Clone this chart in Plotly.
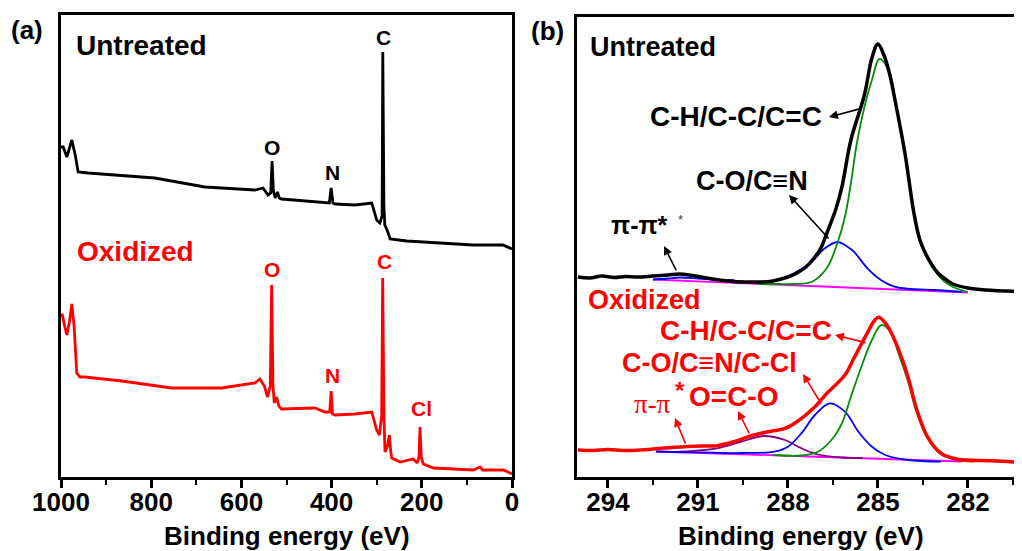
import plotly.graph_objects as go

# ---------------- Panel (a): XPS survey spectra ----------------
survey_untreated_E = [1000, 995, 987, 976, 968, 962, 940, 880, 792, 681, 600, 570, 552, 541, 535, 532, 529,
                      525, 520, 516, 511, 422, 405, 401, 397, 392, 348, 311, 300, 293, 288, 286.5, 284,
                      282, 277, 270, 233, 160, 86, 20, 4, 0]
survey_untreated_I = [329, 329, 319, 336, 320, 304, 303, 301, 298, 289, 287, 286, 288, 281, 283, 315, 285,
                      278, 284, 278, 277, 274, 273, 288, 273, 272, 271, 273, 256, 253, 260, 424, 270,
                      251, 246, 237, 235, 233, 231, 231, 228, 227]

survey_oxidized_E = [1000, 997, 992, 987, 981, 976, 971, 965, 958, 947, 865, 800, 755, 644, 570, 559, 549,
                     542, 536, 533, 530, 527, 522, 517, 511, 437, 415, 404, 401, 398, 392, 348, 311, 300,
                     294, 289, 286.7, 284, 281.6, 276, 272, 269, 266.7, 248, 219, 210, 206, 204, 201,
                     196.6, 174, 86, 71, 65, 19, 4, 0]
survey_oxidized_I = [161, 161, 150, 141, 155, 172, 150, 103, 99, 99, 95, 91, 88, 88, 93, 97, 90,
                     79, 90, 191, 90, 73, 79, 70, 67, 68, 64, 64, 85, 62, 61, 62, 64, 46,
                     41, 60, 198, 60, 24, 30, 41, 25, 18, 14, 17, 13, 20, 49, 18,
                     12, 8, 6, 9, 6, 6, 3, 2]

survey_ticks = [1000, 800, 600, 400, 200, 0]

# ---------------- Panel (b): C 1s high-resolution ----------------
# Untreated
u_env_E = [295.0, 294.6, 294.2, 293.8, 293.4, 293.0, 292.5, 292.0, 291.6, 291.2, 290.8, 290.4, 290.0, 289.5,
           289.0, 288.6, 288.3, 288.0, 287.7, 287.4, 287.1, 286.9, 286.7, 286.4, 286.2, 285.9, 285.45,
           285.2, 285.0, 284.8, 284.6, 284.45, 284.1, 283.8, 283.6, 283.35, 283.0, 282.8, 282.5, 282.0,
           281.4, 280.2]
u_env_I = [200, 199, 201, 199.5, 200.5, 200, 201, 202, 203, 201.5, 199.5, 197.5, 196, 195,
           195, 195.5, 197.5, 200, 204, 210, 220, 229, 244, 268, 290, 337, 382,
           419, 433, 422, 402, 380, 324, 264, 237, 220, 204, 199, 193, 189,
           187, 185.5]

u_cc_E = [289.0, 288.3, 287.8, 287.2, 286.7, 286.35, 286.1, 285.9, 285.7, 285.45, 285.2, 284.95, 284.7,
          284.45, 284.1, 283.8, 283.6, 283.35, 283.0, 282.8, 282.5, 282.0]
u_cc_I = [193, 193, 193, 195.3, 209, 234, 260, 294, 334, 370, 397, 418, 410,
          380, 324, 263, 236, 218, 202, 196, 190, 185]

u_co_E = [290.0, 289.0, 288.3, 287.8, 287.2, 286.8, 286.35, 286.0, 285.8, 285.35, 284.9, 284.45, 283.9,
          283.1, 282.2]
u_co_I = [197, 194.5, 197, 203.7, 215.3, 228, 235, 230, 225.3, 208.7, 197, 190.3, 188,
          187, 185]

u_pi_E = [292.5, 292.0, 291.6, 291.0, 290.3, 289.8]
u_pi_I = [197.5, 198.5, 199.5, 198.5, 197, 196.5]

u_bg_E = [292.5, 287.25, 282.0]
u_bg_I = [197.5, 191, 184.5]

# Oxidized
o_env_E = [295.0, 294.5, 294.0, 293.5, 292.9, 292.3, 291.45, 290.8, 290.35, 289.8, 289.25, 288.7, 288.1,
           287.7, 287.1, 286.7, 286.1, 285.8, 285.45, 285.1, 284.98, 284.7, 284.35, 284.0, 283.7,
           283.35, 282.9, 282.35, 281.2, 280.25]
o_env_I = [27, 26.5, 27.5, 26.5, 27, 28.5, 30.3, 31, 31.3, 35.3, 41, 45, 48.7,
           55.3, 70.3, 83.7, 102, 118.7, 138.7, 157, 159.7, 152, 130.3, 100.3, 67,
           40.3, 23.7, 17.7, 16.3, 14.7]

o_cc_E = [288.5, 287.55, 287.0, 286.55, 286.2, 285.9, 285.55, 285.2, 284.88, 284.55, 284.35, 284.0,
          283.7, 283.35, 282.9, 282.35, 281.8]
o_cc_I = [22, 21.5, 25.3, 37, 53.7, 80.3, 110.3, 137, 152, 143.7, 127, 96,
          64, 39, 23, 17, 15.5]

o_co_E = [292.4, 291.8, 290.5, 289.55, 288.45, 288.0, 287.55, 287.1, 286.6, 286.1, 285.65, 285.2,
          284.75, 284.0, 282.9]
o_co_I = [25.5, 25, 24.3, 24, 25.3, 30.3, 43.7, 62, 73.7, 65.3, 45.3, 30.3,
          22, 17, 15.3]

o_oco_E = [292.0, 291.45, 290.35, 289.55, 288.8, 288.1, 287.55, 287.0, 286.2, 285.5]
o_oco_I = [25, 25.5, 28.7, 35.3, 41, 37, 28.7, 22.5, 19.5, 18.8]

o_bg_E = [292.4, 287.3, 282.2]
o_bg_I = [25.5, 20.5, 15.5]

c1s_ticks = [294, 291, 288, 285, 282]

# ---------------- Figure ----------------
OFF = 8  # default page body margin (page pixels)
W, H = 1022 - OFF, 551 - OFF
ML, MR, MT, MB = 61 - OFF, 1, 15 - OFF, 551 - 477
PW, PH = W - ML - MR, H - MT - MB


def px(X):
    # page pixel -> paper x
    return (X - OFF - ML) / PW


def py(Y):
    # page pixel -> paper y
    return (MT + PH - (Y - OFF)) / PH


FONT = "Liberation Sans, Arial, sans-serif"
GREEN = "#009000"
BLUE = "#0000ff"
MAGENTA = "#ff00ff"
PURPLE = "#800080"
RED = "#ff0000"

fig = go.Figure()

# panel a
fig.add_trace(go.Scatter(x=survey_untreated_E, y=survey_untreated_I, mode="lines",
                         line=dict(color="black", width=2.8), xaxis="x", yaxis="y"))
fig.add_trace(go.Scatter(x=survey_oxidized_E, y=survey_oxidized_I, mode="lines",
                         line=dict(color=RED, width=2.8), xaxis="x", yaxis="y"))


# panel b components
def comp(xs, ys, color, width=1.8):
    fig.add_trace(go.Scatter(x=xs, y=ys, mode="lines",
                             line=dict(color=color, width=width, shape="spline", smoothing=1.0),
                             xaxis="x2", yaxis="y2"))


comp(u_bg_E, u_bg_I, MAGENTA)
comp(u_pi_E, u_pi_I, BLUE)
comp(u_co_E, u_co_I, BLUE)
comp(u_cc_E, u_cc_I, GREEN)
comp(u_env_E, u_env_I, "black", 3.5)

comp(o_bg_E, o_bg_I, MAGENTA)
comp(o_oco_E, o_oco_I, PURPLE)
comp(o_co_E, o_co_I, BLUE)
comp(o_cc_E, o_cc_I, GREEN)
comp(o_env_E, o_env_I, RED, 3.5)

axis_common = dict(showgrid=False, zeroline=False, showline=True, linecolor="black", linewidth=2.5,
                   mirror=True)
xtick_common = dict(ticks="outside", ticklen=8, tickwidth=2.5, tickcolor="black",
                    tickfont=dict(family=FONT, size=26, color="black", weight="bold"),
                    ticklabelstandoff=-8)

fig.update_layout(
    width=W, height=H,
    margin=dict(l=ML, r=MR, t=MT, b=MB, autoexpand=False),
    paper_bgcolor="white", plot_bgcolor="white",
    showlegend=False,
    xaxis=dict(domain=[0, px(512)], range=[1000, 0], tickmode="array", tickvals=survey_ticks,
               minor=dict(dtick=100, tick0=0, ticks="outside", ticklen=5, tickwidth=2, tickcolor="black"),
               **axis_common, **xtick_common),
    yaxis=dict(domain=[0, 1], range=[-1, 461], showticklabels=False, ticks="", **axis_common),
    xaxis2=dict(domain=[px(577), 1], range=[295.03, 280.23], tickmode="array", tickvals=c1s_ticks,
                minor=dict(dtick=1.5, tick0=282, ticks="outside", ticklen=5, tickwidth=2, tickcolor="black"),
                anchor="y2", **axis_common, **xtick_common),
    yaxis2=dict(domain=[0, py(17)], range=[0, 460], showticklabels=False, ticks="", anchor="x2",
                **axis_common),
)

ann = []


def text(X, Y, s, size, color="black", xanchor="center", bold=True, family=FONT):
    ann.append(dict(x=px(X), y=py(Y), xref="paper", yref="paper", text=s, showarrow=False,
                    xanchor=xanchor, yanchor="middle",
                    font=dict(family=family, size=size, color=color, weight="bold" if bold else "normal")))


def arrow(hx, hy, tx, ty, color="black"):
    ann.append(dict(x=px(hx), y=py(hy), xref="paper", yref="paper", text="", showarrow=True,
                    ax=tx - hx, ay=ty - hy, axref="pixel", ayref="pixel",
                    arrowhead=2, arrowsize=1.1, arrowwidth=1.6, arrowcolor=color, standoff=0))


# panel labels
text(27, 30, "(a)", 26)
text(547, 31, "(b)", 26)

# panel a labels
text(74, 45, "Untreated", 28, xanchor="left")
text(75, 251, "Oxidized", 28, RED, xanchor="left")
text(383, 37, "C", 21)
text(272, 147, "O", 21)
text(332, 173, "N", 21)
text(272, 269, "O", 21, RED)
text(384, 261, "C", 21, RED)
text(332, 375, "N", 21, RED)
text(421, 408, "Cl", 21, RED)

# axis titles
text(287, 536, "Binding energy (eV)", 26)
text(801, 536, "Binding energy (eV)", 26)

# panel b labels
text(588, 47, "Untreated", 27, xanchor="left")
text(736, 117, "C-H/C-C/C=C", 28)
arrow(829, 117, 863, 108)
text(752, 181, "C-O/C≡N", 27)
arrow(789, 195, 830, 240)
text(639, 225, "π-π*", 25)
text(680, 219, "*", 13, "#444444", bold=False)
arrow(664, 246, 677, 272)

text(586, 300, "Oxidized", 27, RED, xanchor="left")
text(746, 331, "C-H/C-C/C=C", 28, RED)
arrow(835, 335, 867, 343, RED)
text(709, 363, "C-O/C≡N/C-Cl", 27, RED)
arrow(803, 374, 822, 405, RED)
text(652, 404, "π-π", 27, RED, bold=False, family="Liberation Serif, Times New Roman, serif")
text(680, 390, "*", 24, RED)
text(733, 396, "O=C-O", 28, RED)
arrow(675, 418, 686, 445, RED)
arrow(738, 411, 750, 435, RED)

fig.update_layout(annotations=ann)

fig.write_html("out.html")
